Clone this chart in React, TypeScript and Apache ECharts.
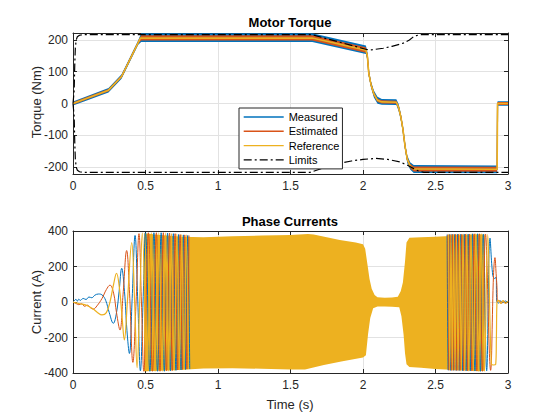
import React, { useEffect, useRef } from "react";
import * as echarts from "echarts";

// ---------- DATA ----------
const timeTickInterval = 0.5;
const torqueTickLabels = [-200, -100, 0, 100, 200];
const legendNames = ["Measured", "Estimated", "Reference", "Limits"];

// Torque reference [t (s), Nm]
const refTorque = [
  [0, 0], [0.245, 42], [0.335, 85], [0.465, 206], [1.65, 206], [2.02, 168], [2.03, 150],
  [2.04, 95], [2.055, 60], [2.075, 30], [2.1, 10], [2.13, 5], [2.23, 4], [2.245, -12],
  [2.26, -40], [2.275, -80], [2.29, -135], [2.305, -175], [2.325, -197], [2.35, -206],
  [2.925, -207], [2.928, 0], [3, 0],
];
// Measured torque noise band (upper / lower edges)
const measuredUpper = [
  [0, 6], [0.1, 24], [0.245, 49], [0.335, 92], [0.45, 199], [0.47, 221], [1.65, 221],
  [2.02, 183], [2.03, 163], [2.04, 106], [2.055, 70], [2.075, 41], [2.1, 21], [2.13, 14],
  [2.23, 13], [2.245, -1], [2.26, -29], [2.275, -69], [2.29, -123], [2.305, -163],
  [2.325, -185], [2.35, -194], [2.925, -195], [2.928, 7], [3, 7],
];
const measuredLower = [
  [0, -6], [0.1, 10], [0.245, 35], [0.335, 78], [0.45, 185], [0.47, 194], [1.65, 194],
  [2.02, 156], [2.03, 137], [2.04, 84], [2.055, 50], [2.075, 19], [2.1, -1], [2.13, -4],
  [2.23, -5], [2.245, -23], [2.26, -51], [2.275, -91], [2.29, -147], [2.305, -187],
  [2.325, -208], [2.35, -219], [2.925, -220], [2.928, -7], [3, -7],
];
// Estimated torque noise band
const estimatedUpper = [
  [0, 4], [0.1, 21], [0.245, 46], [0.335, 89], [0.45, 196], [0.47, 215], [1.65, 215],
  [2.02, 177], [2.03, 158], [2.04, 101], [2.055, 66], [2.075, 36], [2.1, 15], [2.13, 10],
  [2.23, 9], [2.245, -6], [2.26, -34], [2.275, -74], [2.29, -129], [2.305, -169],
  [2.325, -190], [2.35, -198], [2.925, -199], [2.928, 5], [3, 5],
];
const estimatedLower = [
  [0, -4], [0.1, 13], [0.245, 38], [0.335, 81], [0.45, 188], [0.47, 198], [1.65, 198],
  [2.02, 160], [2.03, 142], [2.04, 89], [2.055, 54], [2.075, 24], [2.1, 5], [2.13, 0],
  [2.23, -1], [2.245, -18], [2.26, -46], [2.275, -86], [2.29, -141], [2.305, -181],
  [2.325, -204], [2.35, -214], [2.925, -215], [2.928, -5], [3, -5],
];
// Torque limits
const upperLimit = [
  [0, 0], [0.008, 40], [0.012, 120], [0.016, 175], [0.022, 200], [0.03, 210], [0.045, 215],
  [0.08, 217], [1.645, 217], [2.025, 170], [2.06, 169], [2.14, 174], [2.2, 180], [2.278, 190],
  [2.32, 200], [2.345, 209], [2.37, 214], [2.395, 217], [3, 217],
];
const lowerLimit = [
  [0, 0], [0.008, -40], [0.012, -120], [0.016, -175], [0.022, -200], [0.03, -210], [0.045, -215],
  [0.08, -217], [1.635, -217], [1.7, -207], [1.77, -197], [1.84, -188], [1.92, -181],
  [2.0, -176], [2.09, -173], [2.17, -176], [2.255, -184], [2.31, -195], [2.35, -205],
  [2.38, -212], [2.42, -217], [3, -217],
];

// Phase current envelope of the dense (unresolvable) oscillation [t, A]
const currentUpper = [
  [0.49, 388], [0.6, 378], [0.75, 368], [0.9, 365], [1.1, 370], [1.3, 374], [1.5, 377],
  [1.62, 383], [1.66, 380], [1.84, 349], [1.95, 335], [2.0, 325], [2.015, 300], [2.03, 215],
  [2.045, 130], [2.06, 75], [2.08, 40], [2.1, 27], [2.15, 24], [2.2, 25], [2.24, 30],
  [2.26, 60], [2.275, 110], [2.29, 230], [2.3, 335], [2.32, 362], [2.4, 365], [2.5, 368],
  [2.6, 372], [2.7, 378], [2.8, 382], [2.84, 380],
];
const currentLower = [
  [0.49, -390], [0.7, -385], [0.9, -375], [1.1, -373], [1.3, -376], [1.5, -380], [1.6, -380],
  [1.73, -355], [1.85, -335], [2.0, -312], [2.02, -300], [2.035, -180], [2.05, -90],
  [2.07, -35], [2.1, -26], [2.15, -26], [2.2, -27], [2.25, -30], [2.265, -80], [2.28, -184],
  [2.29, -290], [2.3, -350], [2.32, -366], [2.4, -370], [2.5, -378], [2.6, -382], [2.7, -385],
  [2.8, -390], [2.84, -388],
];

// Resolvable parts of the three phase currents (start-up and stop)
const phaseAStart = [
  [0, 0], [0.01, 8], [0.02, 15], [0.03, 5], [0.04, 16], [0.05, 9], [0.07, 20], [0.09, 14],
  [0.11, 28], [0.13, 24], [0.15, 38], [0.175, 45], [0.2, 40], [0.225, 10], [0.25, -60],
  [0.278, -120], [0.3, -60], [0.318, 60], [0.336, 190], [0.355, 60], [0.372, -160],
  [0.389, -290], [0.408, 20], [0.428, 375], [0.447, 0], [0.465, -388], [0.483, 0], [0.5, 390],
  [0.53, -390], [0.558, 390], [0.583, -390], [0.608, 390], [0.63, -390], [0.652, 388],
  [0.672, -388], [0.692, 385], [0.71, -385], [0.728, 380], [0.745, -383], [0.761, 378],
  [0.776, -380], [0.791, 375], [0.805, -378],
];
const phaseBStart = [
  [0, 0], [0.02, -8], [0.04, -15], [0.06, -10], [0.08, -24], [0.1, -18], [0.12, -32],
  [0.14, -40], [0.165, -22], [0.2, 20], [0.23, 70], [0.255, 95], [0.28, 50], [0.3, -60],
  [0.324, -158], [0.345, 40], [0.37, 290], [0.39, 50], [0.413, -340], [0.435, 0], [0.455, 385],
  [0.472, 0], [0.488, -390], [0.52, 390], [0.548, -390], [0.575, 390], [0.6, -390],
  [0.623, 390], [0.645, -388], [0.666, 388], [0.685, -386], [0.704, 385], [0.722, -383],
  [0.739, 380], [0.755, -380], [0.771, 378], [0.786, -378], [0.8, 375],
];
const phaseCStart = [
  [0, 0], [0.02, -5], [0.05, -10], [0.08, -15], [0.11, -25], [0.14, -40], [0.17, -60],
  [0.2, -73], [0.23, -60], [0.255, 0], [0.28, 100], [0.3, 162], [0.32, 80], [0.338, -80],
  [0.354, -214], [0.375, 0], [0.405, 335], [0.425, 0], [0.442, -370], [0.46, 0], [0.478, 388],
  [0.51, -390], [0.54, 390], [0.566, -390], [0.592, 390], [0.615, -390], [0.638, 388],
  [0.659, -388], [0.679, 386], [0.698, -385], [0.716, 383], [0.734, -382], [0.75, 380],
  [0.766, -380], [0.781, 378], [0.796, -378],
];
const phaseAEnd = [
  [2.58, 380], [2.588, -384], [2.596, 380], [2.604, -385], [2.613, 381], [2.622, -385],
  [2.632, 381], [2.642, -386], [2.652, 382], [2.663, -386], [2.674, 382], [2.686, -387],
  [2.698, 383], [2.711, -388], [2.725, 383], [2.74, -388], [2.755, 384], [2.772, -389],
  [2.79, 384], [2.81, -390], [2.83, 382], [2.853, -388], [2.876, 360], [2.895, 150],
  [2.91, 132], [2.918, 140], [2.922, 5], [2.935, -6], [2.95, 7], [2.965, -5], [2.98, 6], [3, -3],
];
const phaseBEnd = [
  [2.585, 380], [2.593, -384], [2.601, 380], [2.61, -385], [2.619, 381], [2.628, -385],
  [2.638, 381], [2.648, -386], [2.659, 382], [2.67, -386], [2.682, 382], [2.694, -387],
  [2.707, 383], [2.721, -388], [2.735, 383], [2.751, -388], [2.767, 384], [2.785, -389],
  [2.803, 384], [2.824, -390], [2.845, 383], [2.88, -385], [2.9, 150], [2.91, 250],
  [2.918, 160], [2.924, 80], [2.927, 0], [2.94, 8], [2.955, -7], [2.97, 6], [2.985, -8], [3, 4],
];
const phaseCEnd = [
  [2.59, 380], [2.598, -384], [2.607, 380], [2.616, -385], [2.625, 381], [2.635, -385],
  [2.645, 381], [2.656, -386], [2.667, 382], [2.678, -386], [2.69, 382], [2.703, -387],
  [2.716, 383], [2.73, -388], [2.745, 383], [2.761, -388], [2.778, 384], [2.797, -389],
  [2.816, 384], [2.838, -390], [2.86, 380], [2.885, -350], [2.9, -355], [2.915, -352],
  [2.92, -200], [2.924, 0], [2.935, 9], [2.95, -8], [2.965, 8], [2.98, -7], [3, 5],
];

// ---------- STYLE ----------
const BLUE = "#0072BD";
const ORANGE = "#D95319";
const YELLOW = "#EDB120";
const AX = "#262626";
const GRIDC = "#e2e2e2";
const FONT = "'Liberation Sans', Arial, Helvetica, sans-serif";

function xAxis(gridIndex: number, position: string, main: boolean) {
  return {
    type: "value",
    gridIndex,
    position,
    min: 0,
    max: 3,
    interval: timeTickInterval,
    axisLine: { show: true, onZero: false, lineStyle: { color: AX, width: 1 } },
    axisTick: { show: true, inside: true, length: 4, lineStyle: { color: AX } },
    axisLabel: { show: main, margin: 6, color: AX, fontSize: 12, fontFamily: FONT },
    splitLine: { show: main, lineStyle: { color: GRIDC, width: 1 } },
  };
}

function yAxisTorque(position: string, main: boolean) {
  return {
    type: "value",
    gridIndex: 0,
    position,
    min: -222,
    max: 222,
    axisLine: { show: true, onZero: false, lineStyle: { color: AX, width: 1 } },
    axisTick: { show: true, inside: true, length: 4, lineStyle: { color: AX }, customValues: torqueTickLabels },
    axisLabel: {
      show: main, margin: 5, color: AX, fontSize: 12, fontFamily: FONT,
      customValues: torqueTickLabels,
    },
    splitLine: { show: main, lineStyle: { color: GRIDC, width: 1 } },
  };
}

function yAxisCurrent(position: string, main: boolean) {
  return {
    type: "value",
    gridIndex: 1,
    position,
    min: -400,
    max: 400,
    interval: 200,
    axisLine: { show: true, onZero: false, lineStyle: { color: AX, width: 1 } },
    axisTick: { show: true, inside: true, length: 4, lineStyle: { color: AX } },
    axisLabel: { show: main, margin: 5, color: AX, fontSize: 12, fontFamily: FONT },
    splitLine: { show: main, lineStyle: { color: GRIDC, width: 1 } },
  };
}

function band(upper: number[][], lower: number[][], color: string, axis: number) {
  return {
    type: "custom",
    xAxisIndex: axis,
    yAxisIndex: axis,
    silent: true,
    clip: true,
    data: [[0, 0]],
    renderItem: (_p: any, api: any) => {
      const pts = upper.map((p) => api.coord(p)).concat(lower.slice().reverse().map((p) => api.coord(p)));
      return { type: "polygon", shape: { points: pts }, style: { fill: color } };
    },
  };
}

function line(name: string, data: number[][], color: string, width: number, axis: number, extra: any = {}) {
  return {
    type: "line",
    name,
    data,
    xAxisIndex: axis,
    yAxisIndex: axis,
    symbol: "none",
    showSymbol: false,
    clip: true,
    lineStyle: { color, width },
    itemStyle: { color },
    ...extra,
  };
}

const dashDot = [8, 3, 2, 3];

export default function App() {
  const ref = useRef<HTMLDivElement>(null);
  useEffect(() => {
    if (!ref.current) return;
    const chart = echarts.init(ref.current, null, { renderer: "svg" });
    const option: any = {
      animation: false,
      backgroundColor: "#ffffff",
      textStyle: { fontFamily: FONT },
      grid: [
        { left: 73, top: 33, width: 435, height: 141 },
        { left: 73, top: 231, width: 435, height: 142 },
      ],
      xAxis: [xAxis(0, "bottom", true), xAxis(0, "top", false), xAxis(1, "bottom", true), xAxis(1, "top", false)],
      yAxis: [yAxisTorque("left", true), yAxisTorque("right", false), yAxisCurrent("left", true), yAxisCurrent("right", false)],
      legend: {
        data: legendNames,
        orient: "vertical",
        left: 239,
        top: 108,
        itemWidth: 40,
        itemHeight: 13,
        itemGap: 1.3,
        padding: [2.5, 3, 2.5, 4],
        borderColor: AX,
        borderWidth: 1,
        borderRadius: 0,
        backgroundColor: "#ffffff",
        selectedMode: false,
        itemStyle: { opacity: 0 },
        lineStyle: { width: 1.4 },
        textStyle: { fontSize: 11, fontFamily: FONT, color: "#000", lineHeight: 13 },
      },
      graphic: [
        { type: "text", x: 290, y: 22, style: { text: "Motor Torque", font: `bold 13px ${FONT}`, fill: "#000", textAlign: "center", textVerticalAlign: "middle" } },
        { type: "text", x: 290, y: 221, style: { text: "Phase Currents", font: `bold 13px ${FONT}`, fill: "#000", textAlign: "center", textVerticalAlign: "middle" } },
        { type: "text", x: 290, y: 404, style: { text: "Time (s)", font: `13px ${FONT}`, fill: AX, textAlign: "center", textVerticalAlign: "middle" } },
        { type: "text", x: 36, y: 102, rotation: Math.PI / 2, style: { text: "Torque (Nm)", font: `13px ${FONT}`, fill: AX, textAlign: "center", textVerticalAlign: "middle" } },
        { type: "text", x: 36, y: 302, rotation: Math.PI / 2, style: { text: "Current (A)", font: `13px ${FONT}`, fill: AX, textAlign: "center", textVerticalAlign: "middle" } },
      ],
      series: [
        line("Measured", refTorque, BLUE, 1.2, 0),
        band(measuredUpper, measuredLower, BLUE, 0),
        line("Estimated", refTorque, ORANGE, 1.2, 0),
        band(estimatedUpper, estimatedLower, ORANGE, 0),
        line("Reference", refTorque, YELLOW, 1.6, 0),
        line("Limits", upperLimit, "#000", 1.2, 0, { lineStyle: { color: "#000", width: 1.2, type: dashDot } }),
        line("Limits", lowerLimit, "#000", 1.2, 0, { lineStyle: { color: "#000", width: 1.2, type: dashDot } }),

        band(currentUpper, currentLower, YELLOW, 2),
        line("ia", phaseAStart, BLUE, 1, 2, { smooth: 0.4 }),
        line("ia", phaseAEnd, BLUE, 1, 2, { smooth: 0.4 }),
        line("ib", phaseBStart, ORANGE, 1, 2, { smooth: 0.4 }),
        line("ib", phaseBEnd, ORANGE, 1, 2, { smooth: 0.4 }),
        line("ic", phaseCStart, YELLOW, 1.2, 2, { smooth: 0.4 }),
        line("ic", phaseCEnd, YELLOW, 1.2, 2, { smooth: 0.4 }),
      ],
    };
    chart.setOption(option);
    return () => chart.dispose();
  }, []);
  return (
    <div
      ref={ref}
      style={{ position: "fixed", left: 0, top: 0, width: 560, height: 420, background: "#fff" }}
    />
  );
}
